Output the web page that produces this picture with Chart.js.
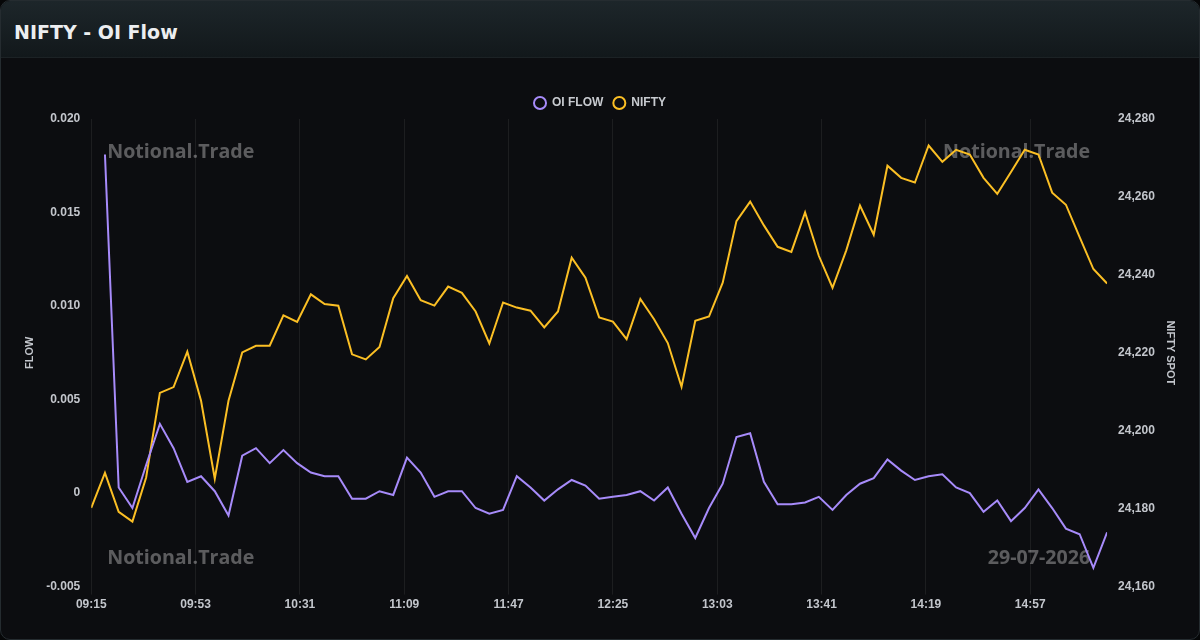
<!DOCTYPE html>
<html>
<head>
<meta charset="utf-8">
<title>NIFTY - OI Flow</title>
<script src="https://cdn.jsdelivr.net/npm/chart.js@4.4.1/dist/chart.umd.min.js"></script>
<style>
  html, body { margin: 0; padding: 0; background: #060708; width: 1200px; height: 640px; overflow: hidden; }
  .card {
    position: absolute; left: 0; top: 0; width: 1198px; height: 638px;
    border: 1px solid #252c30; border-radius: 10px; background: #0c0d10; overflow: hidden;
  }
  .head {
    height: 56px; border-bottom: 1px solid #1c2225;
    background: linear-gradient(180deg, #1d262a 0%, #12181b 100%);
  }
  .head h1 {
    position: absolute; left: 13px; top: 17px; margin: 0;
    font: bold 19px "DejaVu Sans", sans-serif; line-height: 28px; color: #eceef0;
  }
  .wrap { position: absolute; left: 0; top: 57px; width: 1200px; height: 582px; }
</style>
</head>
<body>
<div class="card">
  <div class="head"><h1>NIFTY - OI Flow</h1></div>
</div>
<div class="wrap"><canvas id="oiFlowChart"></canvas></div>

<script>
// 5-minute snapshots, 09:15 -> 15:25
const times = [
  '09:15', '09:20', '09:25', '09:30', '09:35', '09:40', '09:45', '09:50', '09:55', '10:00',
  '10:05', '10:10', '10:15', '10:20', '10:25', '10:30', '10:35', '10:40', '10:45', '10:50',
  '10:55', '11:00', '11:05', '11:10', '11:15', '11:20', '11:25', '11:30', '11:35', '11:40',
  '11:45', '11:50', '11:55', '12:00', '12:05', '12:10', '12:15', '12:20', '12:25', '12:30',
  '12:35', '12:40', '12:45', '12:50', '12:55', '13:00', '13:05', '13:10', '13:15', '13:20',
  '13:25', '13:30', '13:35', '13:40', '13:45', '13:50', '13:55', '14:00', '14:05', '14:10',
  '14:15', '14:20', '14:25', '14:30', '14:35', '14:40', '14:45', '14:50', '14:55', '15:00',
  '15:05', '15:10', '15:15', '15:20', '15:25'
];

const oiFlow = [
  null, 0.0181, 0.0003, -0.0008, 0.0015, 0.0037, 0.0024, 0.0006, 0.0009, 0.0001,
  -0.0012, 0.0020, 0.0024, 0.0016, 0.0023, 0.0016, 0.0011, 0.0009, 0.0009, -0.0003,
  -0.0003, 0.0001, -0.0001, 0.0019, 0.0011, -0.0002, 0.0001, 0.0001, -0.0008, -0.0011,
  -0.0009, 0.0009, 0.0003, -0.0004, 0.0002, 0.0007, 0.0004, -0.0003, -0.0002, -0.0001,
  0.0001, -0.0004, 0.0003, -0.0011, -0.0024, -0.0008, 0.0005, 0.0030, 0.0032, 0.0006,
  -0.0006, -0.0006, -0.0005, -0.0002, -0.0009, -0.0001, 0.0005, 0.0008, 0.0018, 0.0012,
  0.0007, 0.0009, 0.0010, 0.0003, 0.0000, -0.0010, -0.0004, -0.0015, -0.0008, 0.0002,
  -0.0008, -0.0019, -0.0022, -0.0040, -0.0021
];

const nifty = [
  24180.2, 24189.2, 24179.2, 24176.7, 24188.0, 24209.7, 24211.2, 24220.3, 24207.7, 24187.7,
  24207.7, 24220.1, 24221.8, 24221.8, 24229.6, 24227.9, 24235.0, 24232.5, 24232.1, 24219.6,
  24218.3, 24221.5, 24234.0, 24239.7, 24233.5, 24232.1, 24237.0, 24235.4, 24230.6, 24222.4,
  24232.9, 24231.6, 24230.8, 24226.5, 24230.6, 24244.4, 24239.3, 24229.1, 24228.0, 24223.5,
  24233.8, 24228.6, 24222.5, 24211.3, 24228.2, 24229.3, 24238.0, 24253.8, 24258.8, 24252.7,
  24247.2, 24245.9, 24256.0, 24244.9, 24236.7, 24246.3, 24257.8, 24250.3, 24268.0, 24264.9,
  24263.7, 24273.2, 24269.0, 24272.1, 24270.9, 24264.9, 24260.8, 24266.4, 24272.1, 24270.9,
  24261.1, 24258.0, 24249.7, 24241.5, 24237.8
];

const timeTicks = ['09:15', '09:53', '10:31', '11:09', '11:47', '12:25', '13:03', '13:41', '14:19', '14:57'];
const flowTicks = [-0.005, 0, 0.005, 0.010, 0.015, 0.020];
const spotTicks = [24160, 24180, 24200, 24220, 24240, 24260, 24280];

const brand = 'Notional.Trade';
const sessionDate = '29-07-2026';

// minutes since open, so the x axis keeps real time spacing
const OPEN = 9 * 60 + 15;
const toMin = t => { const [h, m] = t.split(':').map(Number); return h * 60 + m - OPEN; };
const toLabel = v => {
  const t = OPEN + Math.round(v);
  return String(Math.floor(t / 60)).padStart(2, '0') + ':' + String(t % 60).padStart(2, '0');
};

const tickColor = '#c3c6cc';
const tickFont = { size: 12, weight: 'bold' };

const watermark = {
  id: 'watermark',
  beforeDatasetsDraw(chart) {
    const { ctx, chartArea: a } = chart;
    ctx.save();
    ctx.font = 'bold 19.6px "Open Sans", "Noto Sans", sans-serif';
    ctx.fillStyle = 'rgba(255, 255, 255, 0.33)';
    ctx.textBaseline = 'middle';
    ctx.textAlign = 'left';
    ctx.fillText(brand, a.left + 16, a.top + 33);
    ctx.fillText(brand, a.left + 16, a.bottom - 28);
    ctx.textAlign = 'right';
    ctx.fillText(brand, a.right - 17, a.top + 33);
    ctx.fillText(sessionDate, a.right - 17, a.bottom - 28);
    ctx.restore();
  }
};

Chart.defaults.font.family = "'Liberation Sans', Arial, sans-serif";

new Chart(document.getElementById('oiFlowChart'), {
  type: 'line',
  data: {
    datasets: [{
      label: 'OI FLOW',
      data: times.map((t, i) => ({ x: toMin(t), y: oiFlow[i] })),
      yAxisID: 'y',
      borderColor: '#a78bfa',
      backgroundColor: 'transparent',
      borderWidth: 2,
      pointRadius: 0,
      pointHoverRadius: 0,
      pointStyle: 'circle',
      tension: 0
    }, {
      label: 'NIFTY',
      data: times.map((t, i) => ({ x: toMin(t), y: nifty[i] })),
      yAxisID: 'y1',
      borderColor: '#fbbf24',
      backgroundColor: 'transparent',
      borderWidth: 2,
      pointRadius: 0,
      pointHoverRadius: 0,
      pointStyle: 'circle',
      tension: 0
    }]
  },
  options: {
    responsive: true,
    maintainAspectRatio: false,
    animation: false,
    devicePixelRatio: 1,
    layout: { padding: { left: 19, right: 19, top: 30, bottom: 24 } },
    plugins: {
      legend: {
        labels: {
          usePointStyle: true,
          pointStyle: 'circle',
          boxWidth: 12,
          boxHeight: 8.5,
          color: '#c8cbd0',
          font: { size: 12, weight: 'bold' }
        }
      },
      tooltip: { enabled: false }
    },
    scales: {
      x: {
        type: 'linear',
        min: 0,
        max: toMin(times[times.length - 1]),
        afterBuildTicks: s => { s.ticks = timeTicks.map(t => ({ value: toMin(t) })); },
        ticks: { color: tickColor, font: tickFont, maxRotation: 0, autoSkip: false, callback: v => toLabel(v) },
        grid: { color: 'rgba(255, 255, 255, 0.07)', drawTicks: true },
        border: { display: false }
      },
      y: {
        position: 'left',
        min: -0.005,
        max: 0.02,
        afterBuildTicks: s => { s.ticks = flowTicks.map(v => ({ value: v })); },
        ticks: {
          color: tickColor, font: tickFont,
          callback: v => (Math.abs(v) < 1e-9 ? '0' : v.toFixed(3))
        },
        grid: { display: false },
        border: { display: false },
        title: { display: true, text: 'FLOW', color: tickColor, font: { size: 11, weight: 'bold' }, padding: { top: 4, bottom: 7 } }
      },
      y1: {
        position: 'right',
        min: 24160,
        max: 24280,
        afterBuildTicks: s => { s.ticks = spotTicks.map(v => ({ value: v })); },
        ticks: { color: tickColor, font: tickFont, callback: v => v.toLocaleString('en-US') },
        grid: { display: false },
        border: { display: false },
        title: { display: true, text: 'NIFTY SPOT', color: tickColor, font: { size: 11, weight: 'bold' }, padding: { top: 4, bottom: 6 } }
      }
    }
  },
  plugins: [watermark]
});
</script>
</body>
</html>
